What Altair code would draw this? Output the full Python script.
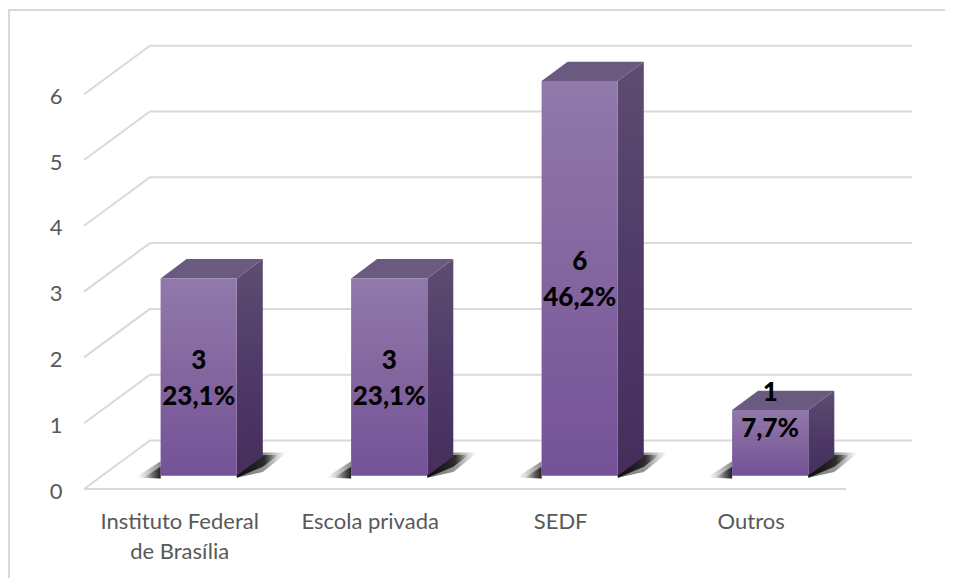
import altair as alt
import pandas as pd

categories = ["Instituto Federal\nde Brasília", "Escola privada", "SEDF", "Outros"]
values = [3, 3, 6, 1]
counts = ["3", "3", "6", "1"]
shares = ["23,1%", "23,1%", "46,2%", "7,7%"]
label_positions = [1.7, 1.7, 3.2, 1.21]
ticks = [0, 1, 2, 3, 4, 5, 6]

W, H = 937, 570
UX, UY = 190.5, 65.8
X0, Y0 = 198.7 - 8, 489 - 8
x_scale = alt.Scale(domain=[-X0 / UX, (W - X0) / UX], range=[0, W], nice=False, zero=False)
y_scale = alt.Scale(domain=[(Y0 - H) / UY, Y0 / UY], range=[H, 0], nice=False, zero=False)

HALF = 0.2
BASE = 0.2
DX, DY = 0.1365, 0.295
WALL_DX, WALL_DY = 0.346, 0.737
WALL_L, WALL_R = -0.602, 3.398
GRID = "#d9d9d9"
FONT = "Lato"

X = alt.X("x:Q", scale=x_scale, axis=None)
Y = alt.Y("y:Q", scale=y_scale, axis=None, stack=None)


def grad(stops, horizontal=False):
    return alt.Gradient(
        gradient="linear",
        x1=0, y1=0,
        x2=1 if horizontal else 0,
        y2=0 if horizontal else 1,
        stops=[alt.GradientStop(color=c, offset=o) for c, o in stops],
    )


# frame
one = pd.DataFrame({"a": [0]})
frame = alt.layer(
    alt.Chart(one).mark_rule(color=GRID, strokeWidth=2).encode(
        x=alt.value(0), x2=alt.value(W), y=alt.value(2)),
    alt.Chart(one).mark_rule(color=GRID, strokeWidth=2).encode(
        x=alt.value(1), y=alt.value(1), y2=alt.value(H)),
)

# walls
grid_df = pd.DataFrame({
    "x": [WALL_L + WALL_DX] * 7,
    "x2": [WALL_R + WALL_DX] * 7,
    "y": [t + WALL_DY for t in ticks],
})
grid = alt.Chart(grid_df).mark_rule(color=GRID, strokeWidth=2).encode(x=X, x2="x2:Q", y=Y)

diag_rows = []
for t in ticks:
    diag_rows.append({"t": t, "x": WALL_L, "y": t})
    diag_rows.append({"t": t, "x": WALL_L + WALL_DX, "y": t + WALL_DY})
diag = alt.Chart(pd.DataFrame(diag_rows)).mark_line(color=GRID, strokeWidth=2).encode(
    x=X, y=Y, detail="t:N")

floor = alt.Chart(pd.DataFrame({"x": [WALL_L], "x2": [WALL_R], "y": [0]})).mark_rule(
    color=GRID, strokeWidth=2).encode(x=X, x2="x2:Q", y=Y)

# y axis labels
axis_layer = alt.Chart(pd.DataFrame({"y": ticks})).mark_point(opacity=0).encode(
    y=alt.Y("y:Q", scale=y_scale, axis=alt.Axis(
        orient="left", values=ticks, domain=False, ticks=False, grid=False, title=None,
        offset=-54, labelFont=FONT, labelFontSize=22, labelColor="#595959", labelPadding=0,
        labelAlign="right", labelOffset=2, format="d")),
)


# shadows: a pale outer shape under a darker inner one, for a soft edge
def shadow_layers(reach_r, top_r, low_r, reach_l, top_l, stops_r, stops_l):
    rows_r, rows_l = [], []
    for i in range(len(values)):
        xr, xl = i + HALF, i - HALF
        rows_r += [
            {"b": i, "x": xr, "y": BASE + 0.02, "y2": BASE - 0.03},
            {"b": i, "x": xr + DX, "y": BASE + DY + top_r, "y2": BASE + low_r},
            {"b": i, "x": xr + DX + reach_r, "y": BASE + DY + top_r, "y2": BASE + DY + top_r - 0.02},
        ]
        rows_l += [
            {"b": i, "x": xl - reach_l, "y": BASE - 0.01, "y2": BASE - 0.03},
            {"b": i, "x": xl, "y": BASE + top_l, "y2": BASE - 0.04},
        ]
    r = alt.Chart(pd.DataFrame(rows_r)).mark_area(color=grad(stops_r, True)).encode(
        x=X, y=Y, y2="y2:Q", detail="b:N")
    l = alt.Chart(pd.DataFrame(rows_l)).mark_area(color=grad(stops_l, True)).encode(
        x=X, y=Y, y2="y2:Q", detail="b:N")
    return [r, l]


shadow_outer = shadow_layers(
    0.12, 0.06, 0.06, 0.125, 0.22,
    [("rgba(0,0,0,0.55)", 0), ("rgba(0,0,0,0.4)", 0.6), ("rgba(0,0,0,0)", 1)],
    [("rgba(0,0,0,0)", 0), ("rgba(0,0,0,0.45)", 1)],
)
shadow_inner = shadow_layers(
    0.07, 0.02, 0.14, 0.08, 0.14,
    [("rgba(0,0,0,0.9)", 0), ("rgba(0,0,0,0.7)", 0.7), ("rgba(0,0,0,0.1)", 1)],
    [("rgba(0,0,0,0.05)", 0), ("rgba(0,0,0,0.75)", 1)],
)

# bars
front_df = pd.DataFrame({
    "x": [i - HALF for i in range(4)],
    "x2": [i + HALF for i in range(4)],
    "y": [v + BASE for v in values],
    "y2": [BASE] * 4,
})
front = alt.Chart(front_df).mark_rect(
    color=grad([("#9079ab", 0), ("#85679f", 0.45), ("#735298", 1)])
).encode(x=X, x2="x2:Q", y=Y, y2="y2:Q")

side_rows, top_rows = [], []
for i, v in enumerate(values):
    xl, xr, top = i - HALF, i + HALF, v + BASE
    side_rows += [
        {"b": i, "x": xr, "y": top, "y2": BASE},
        {"b": i, "x": xr + DX, "y": top + DY, "y2": BASE + DY},
    ]
    top_rows += [
        {"b": i, "x": xl, "y": top, "y2": top},
        {"b": i, "x": xl + DX, "y": top + DY, "y2": top},
        {"b": i, "x": xr, "y": top + DY, "y2": top},
        {"b": i, "x": xr + DX, "y": top + DY, "y2": top + DY},
    ]
side = alt.Chart(pd.DataFrame(side_rows)).mark_area(
    color=grad([("#5e4d72", 0), ("#4f3a68", 0.5), ("#452e5c", 1)])
).encode(x=X, y=Y, y2="y2:Q", detail="b:N")
top = alt.Chart(pd.DataFrame(top_rows)).mark_area(color="#6b5a80").encode(
    x=X, y=Y, y2="y2:Q", detail="b:N")

# data labels
labels_df = pd.DataFrame({
    "x": list(range(4)), "y": label_positions, "count": counts, "share": shares,
})
count_text = alt.Chart(labels_df).mark_text(
    font=FONT, fontSize=26, fontWeight=900, color="#000000", dy=-16, baseline="middle"
).encode(x=X, y=Y, text="count:N")
share_text = alt.Chart(labels_df).mark_text(
    font=FONT, fontSize=26, fontWeight=900, color="#000000", dy=20, baseline="middle"
).encode(x=X, y=Y, text="share:N")

# category labels
cat_df = pd.DataFrame({
    "x": [i - 0.1 for i in range(4)], "y": [-0.35] * 4, "label": categories,
})
cat_text = alt.Chart(cat_df).mark_text(
    font=FONT, fontSize=22, color="#595959", baseline="top", lineBreak="\n", lineHeight=30
).encode(x=X, y=Y, text="label:N")

chart = alt.layer(
    frame, grid, diag, floor, axis_layer, *shadow_outer, *shadow_inner,
    side, top, front, count_text, share_text, cat_text,
).resolve_scale(x="shared", y="shared").resolve_axis(y="independent").properties(
    width=W, height=H, padding=0, autosize=alt.AutoSizeParams(type="none"),
    background="#ffffff",
).configure_view(strokeWidth=0)

chart.save("out.html", embed_options={"renderer": "svg", "actions": False})
